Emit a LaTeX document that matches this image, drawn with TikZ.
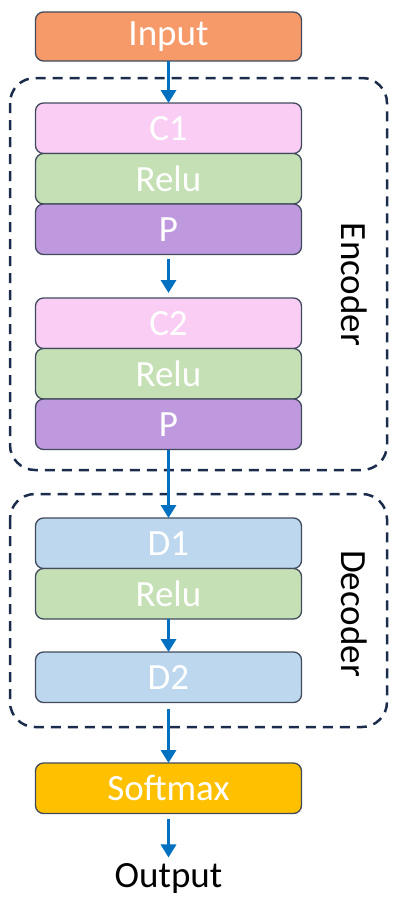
\documentclass[tikz,border=0pt]{standalone}
\usepackage{fontspec}
\setmainfont{Carlito}
\usepackage{xcolor}
\usetikzlibrary{arrows.meta,positioning}

\definecolor{inputc}{HTML}{F79A6A}
\definecolor{convc}{HTML}{FACDF5}
\definecolor{reluc}{HTML}{C5E0B4}
\definecolor{poolc}{HTML}{BF99DD}
\definecolor{densec}{HTML}{BDD7EE}
\definecolor{softc}{HTML}{FFC000}
\definecolor{flowc}{HTML}{0070C0}
\definecolor{groupc}{HTML}{1C2C4C}
\definecolor{edgec}{HTML}{404A5C}

\begin{document}
\begin{tikzpicture}[x=1pt, y=1pt, node distance=0pt,
	layer/.style={draw=edgec, line width=1.3pt, rounded corners=8pt, minimum width=266pt, minimum height=50.5pt, inner sep=0pt, outer sep=0pt, text=white, font=\fontsize{37}{44}\selectfont},
	flow/.style={draw=flowc, line width=3.5pt, -{Triangle[width=15pt,length=13pt]}},
	groupbox/.style={draw=groupc, line width=2.5pt, dash pattern=on 10pt off 7pt, rounded corners=25pt},
	grouplabel/.style={rotate=-90, font=\fontsize{37}{44}\selectfont}]
	\useasboundingbox (0,0) rectangle (404,-899);

	\node ({input}) [layer, fill=inputc, minimum height=49pt] at (168.5,-36.5) {Input};
	% encoder
	\node ({c1}) [layer, fill=convc, below=42pt of input] {C1};
	\node ({relu1}) [layer, fill=reluc, below=of c1] {Relu};
	\node ({p1}) [layer, fill=poolc, below=of relu1] {P};
	\node ({c2}) [layer, fill=convc, below=43.5pt of p1] {C2};
	\node ({relu2}) [layer, fill=reluc, below=of c2] {Relu};
	\node ({p2}) [layer, fill=poolc, below=of relu2] {P};
	% decoder
	\node ({d1}) [layer, fill=densec, below=68.5pt of p2] {D1};
	\node ({relu3}) [layer, fill=reluc, below=of d1] {Relu};
	\node ({d2}) [layer, fill=densec, below=33pt of relu3] {D2};
	\node ({softmax}) [layer, fill=softc, below=60.5pt of d2] {Softmax};
	\node ({output}) [font=\fontsize{37}{44}\selectfont] at (168.5,-878) {Output};

	\draw [groupbox] (10,-78) rectangle (387,-470);
	\draw [groupbox] (10,-494) rectangle (387,-727);
	\node ({enc}) [grouplabel] at (354,-284.5) {Encoder};
	\node ({dec}) [grouplabel] at (354,-613.5) {Decoder};

	\draw [flow] (input) -- (c1);
	\draw [flow, shorten <=4pt, shorten >=5pt] (p1) -- (c2);
	\draw [flow] (p2) -- (d1);
	\draw [flow] (relu3) -- (d2);
	\draw [flow, shorten <=6pt] (d2) -- (softmax);
	\draw [flow, shorten <=5pt, shorten >=2pt] (softmax) -- (output);
\end{tikzpicture}
\end{document}
